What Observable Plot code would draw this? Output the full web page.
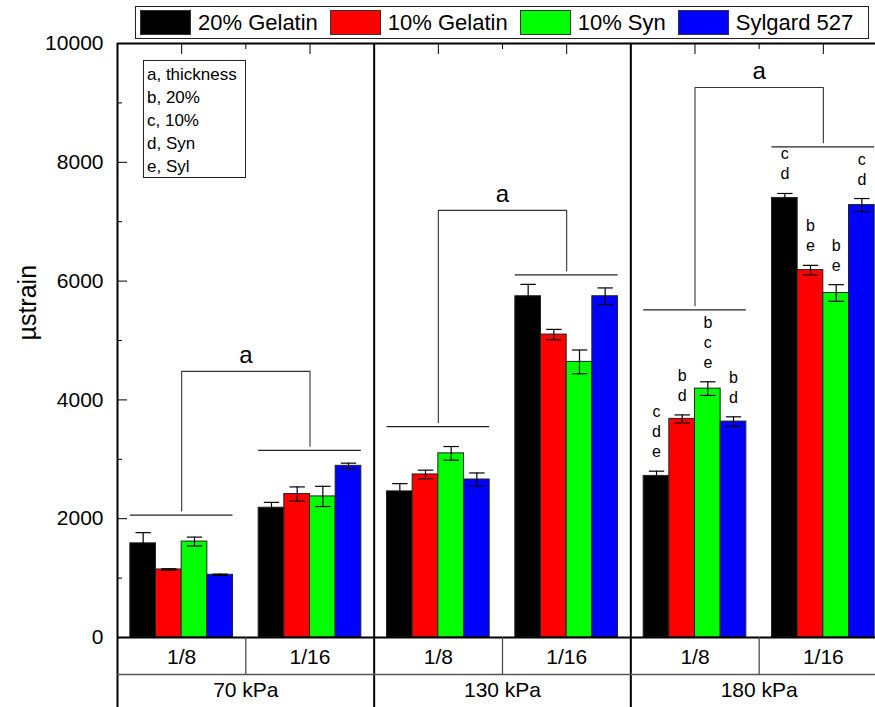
<!DOCTYPE html>
<html>
<head>
<meta charset="utf-8">
<script src="https://cdn.jsdelivr.net/npm/d3@7"></script>
<script src="https://cdn.jsdelivr.net/npm/@observablehq/plot@0.6"></script>
<style>
  body { margin: 0; background: #fff; font-family: Arial, "Liberation Sans", sans-serif; }
  #wrap { position: relative; width: 875px; height: 707px; overflow: hidden; }
  #chart svg { overflow: hidden; }
  #legend {
    position: absolute; left: 135px; top: 6px; width: 732px; height: 31px;
    border: 1px solid #222; background: #fff; display: flex; align-items: center;
    font-size: 22px; color: #000; white-space: nowrap;
  }
  #legend .item { display: flex; align-items: center; margin-right: 12px; }
  #legend .item:first-child { margin-left: 4px; }
  #legend .swatch { width: 49px; height: 23px; border: 1px solid #333; margin-right: 7px; }
  #key {
    position: absolute; left: 143px; top: 60px; width: 101px; height: 116px;
    border: 1px solid #222; background: #fff; font-size: 17px; line-height: 23px;
    padding: 2px 0 0 3px; box-sizing: border-box; width: 103px; height: 118px;
  }
</style>
</head>
<body>
<div id="wrap">
  <div id="chart"></div>
  <div id="legend"></div>
  <div id="key"></div>
</div>
<script>
// Categories
const pressures = ["70 kPa", "130 kPa", "180 kPa"];
const thicknesses = ["1/8", "1/16"];
const materials = ["20% Gelatin", "10% Gelatin", "10% Syn", "Sylgard 527"];
const materialColors = ["#000000", "#ff0000", "#00ff00", "#0000ff"];

// Mean strain (µstrain) and SD per group, in group order:
// 70 kPa 1/8, 70 kPa 1/16, 130 kPa 1/8, 130 kPa 1/16, 180 kPa 1/8, 180 kPa 1/16
const gelatin20   = [1585, 2185, 2460, 5745, 2720, 7400];
const gelatin20Sd = [180, 90, 130, 200, 80, 75];
const gelatin10   = [1145, 2415, 2745, 5100, 3680, 6185];
const gelatin10Sd = [12, 120, 72, 87, 67, 80];
const syn10       = [1615, 2375, 3100, 4640, 4190, 5800];
const syn10Sd     = [75, 170, 115, 200, 115, 140];
const sylgard     = [1055, 2890, 2660, 5745, 3635, 7280];
const sylgardSd   = [12, 45, 110, 140, 80, 110];

// Significance letters above each bar
const gelatin20Sig = ["", "", "", "", "c\nd\ne", "c\nd"];
const gelatin10Sig = ["", "", "", "", "b\nd", "b\ne"];
const syn10Sig     = ["", "", "", "", "b\nc\ne", "b\ne"];
const sylgardSig   = ["", "", "", "", "b\nd", "c\nd"];

// Thickness comparison brackets, one per pressure
const bracketThin  = [2060, 3550, 5515];   // line over the 1/8 bars
const bracketThick = [3150, 6105, 8260];   // line over the 1/16 bars
const bracketTop   = [4480, 7190, 9260];
const bracketLabel = ["a", "a", "a"];

const yTicks = [0, 2000, 4000, 6000, 8000, 10000];
const yMinorTicks = [1000, 3000, 5000, 7000, 9000];
const significanceKey = ["a, thickness", "b, 20%", "c, 10%", "d, Syn", "e, Syl"];

// ---- layout helpers ----
const GROUP_INSET = 0.1;     // empty space on each side of a group of bars (x units)
const BAR = 0.2;             // bar width (x units, one group = 1)
const CAP = 0.06;            // half width of error bar caps
const LEG_GAP = 70;          // gap between bracket legs and their group line
const UNITS_PER_PX = 10000 / 594;
const below = px => -px * UNITS_PER_PX;   // distance below the zero line, in axis units

const series = [
  {values: gelatin20, sd: gelatin20Sd, sig: gelatin20Sig},
  {values: gelatin10, sd: gelatin10Sd, sig: gelatin10Sig},
  {values: syn10, sd: syn10Sd, sig: syn10Sig},
  {values: sylgard, sd: sylgardSd, sig: sylgardSig}
];

const groups = pressures.flatMap((p, pi) => thicknesses.map((t, ti) => ({pressure: p, thickness: t, g: pi * 2 + ti})));
const bars = series.flatMap((s, i) => s.values.map((v, g) => ({
  material: materials[i], i, g, value: v, sd: s.sd[g], sig: s.sig[g]
})));
const barLeft = d => d.g + GROUP_INSET + d.i * BAR;
const barMid = d => barLeft(d) + BAR / 2;

const groupLines = pressures.flatMap((p, pi) => [
  {g: pi * 2, y: bracketThin[pi]},
  {g: pi * 2 + 1, y: bracketThick[pi]}
]);
const bracketPath = pressures.flatMap((p, pi) => [
  {pi, x: pi * 2 + 0.5, y: bracketThin[pi] + LEG_GAP},
  {pi, x: pi * 2 + 0.5, y: bracketTop[pi]},
  {pi, x: pi * 2 + 1.5, y: bracketTop[pi]},
  {pi, x: pi * 2 + 1.5, y: bracketThick[pi] + LEG_GAP}
]);
const bracketText = pressures.map((p, pi) => ({x: pi * 2 + 1, y: bracketTop[pi], label: bracketLabel[pi]}));

const rowSplit = below(37);
const chartBottom = -70 * UNITS_PER_PX;

const chart = Plot.plot({
  width: 875,
  height: 707,
  marginTop: 43,
  marginBottom: 0,
  marginLeft: 117,
  marginRight: 0,
  style: {fontFamily: "Arial, 'Liberation Sans', sans-serif", fontSize: "21px", color: "#000", background: "#fff"},
  x: {domain: [0, 6], range: [117, 887]},
  y: {domain: [chartBottom, 10000], range: [707, 43]},
  color: {domain: materials, range: materialColors},
  marks: [
    // bars
    Plot.rectY(bars, {x1: barLeft, x2: d => barLeft(d) + BAR, y1: 0, y2: "value", fill: "material", stroke: "#222", strokeWidth: 1}),
    // error bars
    Plot.ruleX(bars, {x: barMid, y1: d => d.value - d.sd, y2: d => d.value + d.sd, stroke: "#000", strokeWidth: 1.2}),
    Plot.link(bars, {x1: d => barMid(d) - CAP, x2: d => barMid(d) + CAP, y1: d => d.value + d.sd, y2: d => d.value + d.sd, stroke: "#000", strokeWidth: 1.2}),
    Plot.link(bars, {x1: d => barMid(d) - CAP, x2: d => barMid(d) + CAP, y1: d => d.value - d.sd, y2: d => d.value - d.sd, stroke: "#000", strokeWidth: 1.2}),
    // significance letters
    Plot.text(bars.filter(d => d.sig), {x: barMid, y: d => d.value + d.sd, text: "sig", lineAnchor: "bottom", dy: -14, fontSize: 16, lineHeight: 1.25, fill: "#000"}),
    // thickness brackets
    Plot.ruleY(groupLines, {y: "y", x1: d => d.g + GROUP_INSET, x2: d => d.g + 1 - GROUP_INSET, stroke: "#222", strokeWidth: 1.3}),
    Plot.line(bracketPath, {x: "x", y: "y", z: "pi", stroke: "#333", strokeWidth: 1.1}),
    Plot.text(bracketText, {x: "x", y: "y", text: "label", lineAnchor: "bottom", dy: -8, fontSize: 24, fill: "#000"}),
    // frame: left axis, panel dividers, top and zero lines
    Plot.ruleX([0, 2, 4], {stroke: "#000", strokeWidth: 2}),
    Plot.ruleY([10000, 0], {stroke: "#000", strokeWidth: 2}),
    // category table below the zero line
    Plot.ruleY([rowSplit], {stroke: "#555", strokeWidth: 1.5}),
    Plot.ruleX([1, 3, 5], {y1: rowSplit, y2: 0, stroke: "#444", strokeWidth: 1.2}),
    Plot.text(groups, {x: d => d.g + 0.5, y: below(20), text: "thickness", fill: "#000"}),
    Plot.text(pressures, {x: (d, i) => i * 2 + 1, y: below(53), text: d => d, fill: "#000"}),
    // y axis
    Plot.axisY({ticks: yTicks, tickSize: -10, tickFormat: () => "", label: null}),
    Plot.axisY({ticks: yMinorTicks, tickSize: -5, tickFormat: () => "", label: null}),
    Plot.axisY({ticks: yTicks, tickSize: 0, tickPadding: 14, tickFormat: d3.format("d"), label: null}),
    Plot.text(["µstrain"], {frameAnchor: "left", y: () => 5000, rotate: -90, dx: -90, fontSize: 25, fill: "#000"}),
    // top axis ticks
    Plot.axisX({anchor: "top", ticks: [0.5, 1.5, 2.5, 3.5, 4.5, 5.5], tickSize: -10, tickFormat: () => "", label: null}),
    Plot.axisX({anchor: "top", ticks: [1, 3, 5], tickSize: -5, tickFormat: () => "", label: null})
  ]
});
document.getElementById("chart").append(chart);

// colour legend
const legend = d3.select("#legend");
materials.forEach((m, i) => {
  const item = legend.append("div").attr("class", "item");
  item.append("div").attr("class", "swatch").style("background", materialColors[i]);
  item.append("span").text(m);
});

// significance key
d3.select("#key").selectAll("div").data(significanceKey).join("div").text(d => d);
</script>
</body>
</html>
